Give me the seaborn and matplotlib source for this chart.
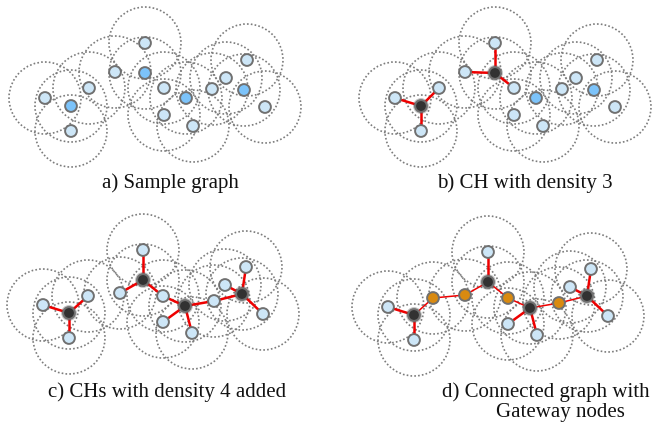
import matplotlib
matplotlib.use("Agg")
import matplotlib.pyplot as plt
from matplotlib.patches import Circle
import pandas as pd
import seaborn as sns

# node positions (pixels, in panel-a frame); panels c/d move two nodes slightly
node_x_ab = [145, 115, 145, 89, 164, 45, 71, 186, 164, 71, 193, 212, 226, 247, 244, 265]
node_y_ab = [43, 72, 73, 88, 88, 98, 106, 98, 115, 131, 126, 89, 78, 60, 90, 107]
node_x_cd = [145, 122, 145, 90, 165, 45, 71, 187, 165, 71, 194, 216, 227, 248, 244, 265]
node_y_cd = [43, 86, 73, 89, 89, 98, 106, 99, 115, 131, 126, 94, 78, 60, 87, 107]

# panel offsets
panel_names = ["a", "b", "c", "d"]
panel_dx = [0, 350, -2, 343]
panel_dy = [0, 0, 207, 209]

# node roles per panel
blue_nodes = {"a": [2, 6, 7, 14], "b": [7, 14], "c": [], "d": []}
ch_nodes = {"a": [], "b": [2, 6], "c": [2, 6, 7, 14], "d": [2, 6, 7, 14]}
gw_nodes = {"a": [], "b": [], "c": [], "d": [1, 3, 4, 11]}

# edges per panel
edges_b = [(2, 0), (2, 1), (2, 4), (6, 5), (6, 3), (6, 9)]
edges_c = edges_b + [(7, 4), (7, 8), (7, 10), (7, 11), (14, 11), (14, 12), (14, 13), (14, 15)]
thick_edges = {"a": [], "b": edges_b, "c": edges_c,
               "d": [(2, 0), (6, 5), (6, 9), (7, 8), (7, 10), (14, 12), (14, 13), (14, 15)]}
thin_edges = {"a": [], "b": [], "c": [],
              "d": [(6, 3), (3, 1), (1, 2), (2, 4), (4, 7), (7, 11), (11, 14)]}

captions = ["a) Sample graph", "b) CH with density 3", "c) CHs with density 4 added",
            "d) Connected graph with", "Gateway nodes"]
caption_x = [170, 525, 167, 546, 560]
caption_y = [183, 183, 392, 392, 413]

ring_radius = 36

colors = {"plain": "#cde6f7", "blue": "#7cc3fa", "ch": "#323232", "gw": "#d98a10"}

sns.set_style("white")
plt.rcParams["font.family"] = ["Liberation Serif", "DejaVu Serif"]

fig = plt.figure(figsize=(6.54, 4.23), dpi=100)
ax = fig.add_axes([0, 0, 1, 1])

rows = []
for p, dx, dy in zip(panel_names, panel_dx, panel_dy):
    xs = node_x_ab if p in ("a", "b") else node_x_cd
    ys = node_y_ab if p in ("a", "b") else node_y_cd
    for i, (x, y) in enumerate(zip(xs, ys)):
        ax.add_patch(Circle((x + dx, y + dy), ring_radius, fill=False, ec="#7c7c7c",
                            lw=1.2, ls=(0, (1, 1.3)), zorder=1))
        role = "plain"
        if i in blue_nodes[p]:
            role = "blue"
        if i in ch_nodes[p]:
            role = "ch"
        if i in gw_nodes[p]:
            role = "gw"
        rows.append({"panel": p, "x": x + dx, "y": y + dy, "role": role})
    for a, b in thick_edges[p]:
        ax.plot([xs[a] + dx, xs[b] + dx], [ys[a] + dy, ys[b] + dy], color="#ee0000",
                lw=1.8, zorder=2, solid_capstyle="butt")
    for a, b in thin_edges[p]:
        ax.plot([xs[a] + dx, xs[b] + dx], [ys[a] + dy, ys[b] + dy], color="#ee0000",
                lw=1.1, zorder=2)

nodes = pd.DataFrame(rows)

# soft halo under cluster heads
ch = nodes[nodes.role == "ch"]
sns.scatterplot(data=ch, x="x", y="y", s=130, color="#555555", alpha=0.35,
                edgecolor="none", ax=ax, zorder=3, legend=False)
sns.scatterplot(data=nodes, x="x", y="y", hue="role", palette=colors, s=72,
                edgecolor="#707070", linewidth=1.4, ax=ax, zorder=4, legend=False)

for text, x, y in zip(captions, caption_x, caption_y):
    ax.text(x, y, text, ha="center", va="center", fontsize=15, color="#111111")

ax.set_xlim(0, 654)
ax.set_ylim(423, 0)
ax.axis("off")
fig.savefig("out.png", dpi=100)
